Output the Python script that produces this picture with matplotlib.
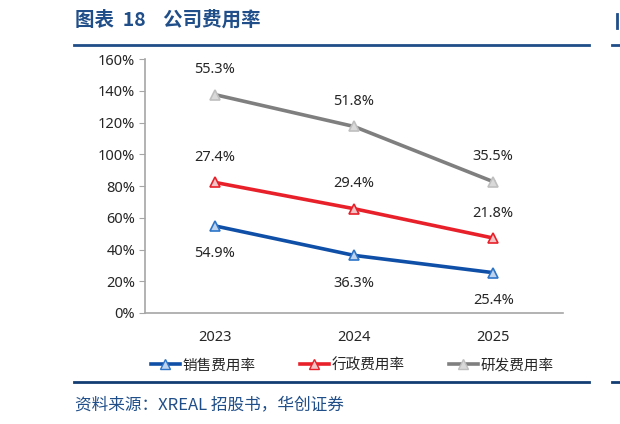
import numpy as np
import matplotlib.pyplot as plt
from matplotlib.lines import Line2D

plt.rcParams['font.family'] = ['Noto Sans', 'Noto Sans CJK SC', 'DejaVu Sans']

years = ['2023', '2024', '2025']
sales_rate = [54.9, 36.3, 25.4]   # 销售费用率
admin_rate = [27.4, 29.4, 21.8]   # 行政费用率
rd_rate = [55.3, 51.8, 35.5]      # 研发费用率
series_names = ['销售费用率', '行政费用率', '研发费用率']

line_colors = ['#0F4FA8', '#E8202A', '#7F7F7F']
face_colors = ['#BDD3EE', '#F2C4C6', '#D9D9D9']
edge_colors = ['#2E75C8', '#E8202A', '#BFBFBF']

# 堆积折线：逐层累加
layers = [np.array(sales_rate), np.array(admin_rate), np.array(rd_rate)]
tops = np.cumsum(layers, axis=0)

fig = plt.figure(figsize=(6.2, 4.24), dpi=100)
ax = fig.add_axes([0.2339, 0.2618, 0.908 - 0.2339, 0.8608 - 0.2618])
x = np.arange(len(years))

for i in range(3):
    ax.plot(x, tops[i], color=line_colors[i], lw=2.6, zorder=2)
    ax.plot(x, tops[i], ls='none', marker='^', ms=7.5, mfc=face_colors[i],
            mec=edge_colors[i], mew=1.2, zorder=3)
    for xi, (v, t) in enumerate(zip(layers[i], tops[i])):
        dy = -20 if i == 0 else 18
        ax.annotate(f'{v:.1f}%', (xi, t), xytext=(0, dy), textcoords='offset points',
                    ha='center', va='center', fontsize=10.5, color='#262626')

ax.set_xlim(-0.5, 2.5)
ax.set_ylim(0, 160)
ax.set_yticks(np.arange(0, 161, 20))
ax.set_yticklabels([f'{v}%' for v in range(0, 161, 20)])
ax.set_xticks(x)
ax.set_xticklabels(years)
ax.tick_params(axis='y', length=4, color='#A6A6A6', labelsize=10.5, labelcolor='#262626', pad=3)
ax.tick_params(axis='x', length=0, labelsize=10.5, labelcolor='#262626', pad=12)
for s in ['top', 'right']:
    ax.spines[s].set_visible(False)
for s in ['left', 'bottom']:
    ax.spines[s].set_color('#A6A6A6')
    ax.spines[s].set_linewidth(1.2)

handles = [Line2D([], [], color=line_colors[i], lw=2.6, marker='^', ms=6.5,
                  mfc=face_colors[i], mec=edge_colors[i], mew=1.0) for i in range(3)]
fig.legend(handles, series_names, loc='center', bbox_to_anchor=(0.568, 0.137), ncol=3,
           frameon=False, fontsize=10.5, handlelength=2.0, handletextpad=0.2,
           columnspacing=3.0, labelcolor='#262626')

navy = '#1F4E89'
fig.text(75 / 620, 1 - 20 / 424, '图表  18    公司费用率', fontsize=14, fontweight='bold',
         color=navy, ha='left', va='center', family=['Noto Sans CJK SC', 'DejaVu Sans'])
fig.add_artist(Line2D([74 / 620, 589 / 620], [1 - 45 / 424] * 2, color=navy, lw=2))
fig.add_artist(Line2D([612 / 620, 1.0], [1 - 45 / 424] * 2, color=navy, lw=2))
fig.add_artist(Line2D([617 / 620, 617 / 620], [1 - 14 / 424, 1 - 28 / 424], color=navy, lw=2))
fig.add_artist(Line2D([74 / 620, 589 / 620], [1 - 382 / 424] * 2, color='#123D73', lw=2))
fig.add_artist(Line2D([612 / 620, 1.0], [1 - 382 / 424] * 2, color='#123D73', lw=2))
fig.text(75 / 620, 1 - 405 / 424, '资料来源：XREAL 招股书，华创证券', fontsize=12,
         style='italic', color=navy, ha='left', va='center',
         family=['Noto Sans CJK SC', 'DejaVu Sans'])

fig.savefig('out.png', dpi=100)
